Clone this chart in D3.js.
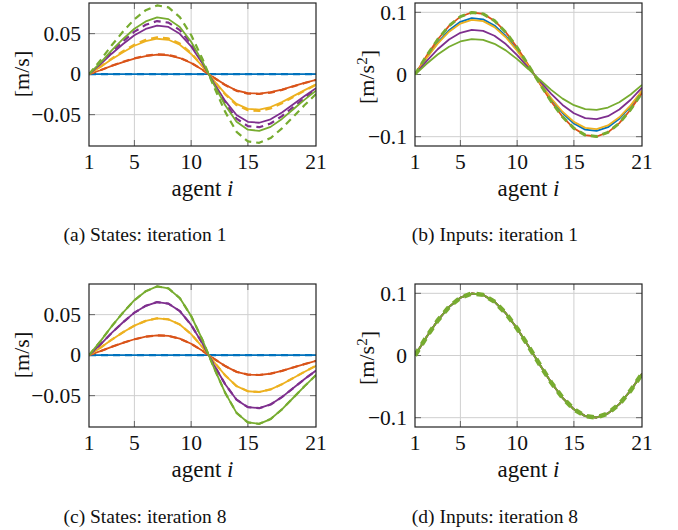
<!DOCTYPE html>
<html lang="en">
<head>
<meta charset="UTF-8">
<title>States and inputs</title>
<script src="https://d3js.org/d3.v7.min.js"></script>
<style>
    body { margin: 0; background: #fff; }
    svg { display: block; }
    text { font-family: "Liberation Serif", "Times New Roman", serif; fill: #111; }
</style>
</head>
<body>
<svg id="chart" width="678" height="530"></svg>
<script>
// agents 1..21
const agents = d3.range(1, 22);
const xTicks = [1, 5, 10, 15, 21];
const stateTicks = [-0.05, 0, 0.05];
const stateTickLabels = ["\u22120.05", "0", "0.05"];
const inputTicks = [-0.1, 0, 0.1];
const inputTickLabels = ["\u22120.1", "0", "0.1"];

const colors = ["#0072BD", "#D95319", "#EDB120", "#7E2F8E", "#77AC30"];

// states, desired (dashed) -- also what iteration 8 reaches
const stateBlueRef   = [0,0,0,0,0,0,0,0,0,0,0,0,0,0,0,0,0,0,0,0,0];
const stateOrangeRef = [0, 0.0049, 0.0103, 0.0152, 0.0196, 0.0228, 0.0245, 0.0238, 0.0203, 0.0140, 0.0054, -0.0044, -0.0135, -0.0206, -0.0240, -0.0245, -0.0228, -0.0194, -0.0152, -0.0110, -0.0071];
const stateYellowRef = [0, 0.0091, 0.0191, 0.0282, 0.0364, 0.0423, 0.0455, 0.0441, 0.0378, 0.0259, 0.0100, -0.0082, -0.0250, -0.0382, -0.0446, -0.0455, -0.0423, -0.0360, -0.0282, -0.0205, -0.0132];
const statePurpleRef = [0, 0.0131, 0.0275, 0.0406, 0.0524, 0.0609, 0.0655, 0.0635, 0.0544, 0.0373, 0.0144, -0.0118, -0.0360, -0.0550, -0.0642, -0.0655, -0.0609, -0.0518, -0.0406, -0.0295, -0.0190];
const stateGreenRef  = [0, 0.0170, 0.0356, 0.0526, 0.0678, 0.0789, 0.0848, 0.0823, 0.0704, 0.0483, 0.0187, -0.0153, -0.0466, -0.0712, -0.0831, -0.0848, -0.0789, -0.0670, -0.0526, -0.0382, -0.0246];

// states, iteration 1
const stateBlue1   = [0,0,0,0,0,0,0,0,0,0,0,0,0,0,0,0,0,0,0,0,0];
const stateOrange1 = [0, 0.0048, 0.0101, 0.0149, 0.0192, 0.0223, 0.0240, 0.0233, 0.0199, 0.0137, 0.0053, -0.0043, -0.0132, -0.0202, -0.0235, -0.0240, -0.0223, -0.0190, -0.0149, -0.0108, -0.0070];
const stateYellow1 = [0, 0.0087, 0.0184, 0.0271, 0.0350, 0.0406, 0.0437, 0.0424, 0.0363, 0.0249, 0.0096, -0.0079, -0.0240, -0.0367, -0.0428, -0.0437, -0.0406, -0.0345, -0.0271, -0.0197, -0.0127];
const statePurple1 = [0, 0.0120, 0.0252, 0.0372, 0.0480, 0.0558, 0.0600, 0.0582, 0.0498, 0.0342, 0.0132, -0.0108, -0.0330, -0.0504, -0.0588, -0.0600, -0.0558, -0.0474, -0.0372, -0.0270, -0.0174];
const stateGreen1  = [0, 0.0140, 0.0294, 0.0434, 0.0560, 0.0651, 0.0700, 0.0679, 0.0581, 0.0399, 0.0154, -0.0126, -0.0385, -0.0588, -0.0686, -0.0700, -0.0651, -0.0553, -0.0434, -0.0315, -0.0203];

// inputs, iteration 1
const inputRef     = [0, 0.0295, 0.0563, 0.0782, 0.0931, 0.0997, 0.0975, 0.0866, 0.0680, 0.0434, 0.0149, -0.0149, -0.0434, -0.0680, -0.0866, -0.0975, -0.0997, -0.0931, -0.0782, -0.0563, -0.0295];
const inputBlue1   = [0, 0.0268, 0.0513, 0.0711, 0.0847, 0.0907, 0.0887, 0.0788, 0.0619, 0.0395, 0.0136, -0.0136, -0.0395, -0.0619, -0.0788, -0.0887, -0.0907, -0.0847, -0.0711, -0.0513, -0.0268];
const inputOrange1 = [0, 0.0295, 0.0563, 0.0782, 0.0931, 0.0997, 0.0975, 0.0866, 0.0680, 0.0434, 0.0149, -0.0149, -0.0434, -0.0680, -0.0866, -0.0975, -0.0997, -0.0931, -0.0782, -0.0563, -0.0295];
const inputYellow1 = [0, 0.0259, 0.0496, 0.0688, 0.0819, 0.0878, 0.0858, 0.0762, 0.0599, 0.0382, 0.0131, -0.0131, -0.0382, -0.0599, -0.0762, -0.0858, -0.0878, -0.0819, -0.0688, -0.0496, -0.0259];
const inputPurple1 = [0, 0.0212, 0.0406, 0.0563, 0.0670, 0.0718, 0.0702, 0.0624, 0.0490, 0.0312, 0.0107, -0.0107, -0.0312, -0.0490, -0.0624, -0.0702, -0.0718, -0.0670, -0.0563, -0.0406, -0.0212];
const inputGreen1  = [0, 0.0168, 0.0321, 0.0446, 0.0531, 0.0568, 0.0556, 0.0494, 0.0388, 0.0247, 0.0085, -0.0085, -0.0247, -0.0388, -0.0494, -0.0556, -0.0568, -0.0531, -0.0446, -0.0321, -0.0168];

// inputs, iteration 8 (all agents converged onto the reference)
const inputBlue8   = [0, 0.0294, 0.0562, 0.0781, 0.0930, 0.0996, 0.0974, 0.0865, 0.0679, 0.0433, 0.0148, -0.0149, -0.0434, -0.0680, -0.0866, -0.0975, -0.0997, -0.0931, -0.0782, -0.0563, -0.0295];
const inputOrange8 = [0, 0.0295, 0.0563, 0.0782, 0.0931, 0.0997, 0.0975, 0.0866, 0.0680, 0.0434, 0.0149, -0.0149, -0.0434, -0.0680, -0.0866, -0.0975, -0.0997, -0.0931, -0.0782, -0.0563, -0.0295];
const inputYellow8 = [0, 0.0295, 0.0563, 0.0782, 0.0931, 0.0997, 0.0975, 0.0866, 0.0680, 0.0434, 0.0149, -0.0149, -0.0434, -0.0680, -0.0866, -0.0975, -0.0997, -0.0931, -0.0782, -0.0563, -0.0295];
const inputPurple8 = [0, 0.0295, 0.0563, 0.0782, 0.0931, 0.0997, 0.0975, 0.0866, 0.0680, 0.0434, 0.0149, -0.0149, -0.0434, -0.0680, -0.0866, -0.0975, -0.0997, -0.0931, -0.0782, -0.0563, -0.0295];
const inputGreen8  = [0, 0.0295, 0.0563, 0.0782, 0.0931, 0.0997, 0.0975, 0.0866, 0.0680, 0.0434, 0.0149, -0.0149, -0.0434, -0.0680, -0.0866, -0.0975, -0.0997, -0.0931, -0.0782, -0.0563, -0.0295];

const svg = d3.select("#chart");

function drawPanel(p) {
    const x = d3.scaleLinear().domain([1, 21]).range([p.left, p.right]);
    const y = d3.scaleLinear().domain(p.yDomain).range([p.bottom, p.top]);
    const g = svg.append("g");

    // grid
    g.selectAll(".gx").data(xTicks.slice(1, -1)).enter().append("line")
        .attr("x1", d => x(d)).attr("x2", d => x(d))
        .attr("y1", p.top).attr("y2", p.bottom)
        .attr("stroke", "#cfcfcf").attr("stroke-width", 1);
    g.selectAll(".gy").data(p.yTicks).enter().append("line")
        .attr("x1", p.left).attr("x2", p.right)
        .attr("y1", d => y(d)).attr("y2", d => y(d))
        .attr("stroke", "#cfcfcf").attr("stroke-width", 1);

    // inner tick marks on all four sides
    const tl = 6;
    xTicks.slice(1, -1).forEach(d => {
        g.append("line").attr("x1", x(d)).attr("x2", x(d)).attr("y1", p.bottom).attr("y2", p.bottom - tl)
            .attr("stroke", "#666");
        g.append("line").attr("x1", x(d)).attr("x2", x(d)).attr("y1", p.top).attr("y2", p.top + tl)
            .attr("stroke", "#666");
    });
    p.yTicks.forEach(d => {
        g.append("line").attr("x1", p.left).attr("x2", p.left + tl).attr("y1", y(d)).attr("y2", y(d))
            .attr("stroke", "#666");
        g.append("line").attr("x1", p.right).attr("x2", p.right - tl).attr("y1", y(d)).attr("y2", y(d))
            .attr("stroke", "#666");
    });

    const line = d3.line().x((d, i) => x(agents[i])).y(d => y(d));
    const clipId = "clip" + p.id;
    svg.append("clipPath").attr("id", clipId).append("rect")
        .attr("x", p.left).attr("y", p.top).attr("width", p.right - p.left).attr("height", p.bottom - p.top);
    const lines = g.append("g").attr("clip-path", "url(#" + clipId + ")");

    p.series.forEach(s => {
        lines.append("path")
            .attr("d", line(s.values))
            .attr("fill", "none")
            .attr("stroke", s.color)
            .attr("stroke-width", s.width)
            .attr("stroke-dasharray", s.dash || null)
            .attr("stroke-linejoin", "round");
    });

    // frame
    g.append("rect")
        .attr("x", p.left).attr("y", p.top)
        .attr("width", p.right - p.left).attr("height", p.bottom - p.top)
        .attr("fill", "none").attr("stroke", "#222").attr("stroke-width", 1.2);

    // tick labels
    g.selectAll(".xl").data(xTicks).enter().append("text")
        .attr("x", d => x(d)).attr("y", p.bottom + 23)
        .attr("text-anchor", "middle").attr("font-size", 21.5)
        .text(d => d);
    g.selectAll(".yl").data(p.yTicks).enter().append("text")
        .attr("x", p.left - 8).attr("y", d => y(d)).attr("dy", "0.34em")
        .attr("text-anchor", "end").attr("font-size", 21.5)
        .text((d, i) => p.yTickLabels[i]);

    // axis labels
    const xl = g.append("text")
        .attr("x", (p.left + p.right) / 2).attr("y", p.bottom + 50)
        .attr("text-anchor", "middle").attr("font-size", 23);
    xl.append("tspan").text("agent ");
    xl.append("tspan").attr("font-style", "italic").text("i");

    const yl = g.append("text")
        .attr("transform", `translate(${p.yLabelX},${p.yLabelY}) rotate(-90)`)
        .attr("text-anchor", "middle").attr("font-size", 22);
    yl.append("tspan").text(p.unit);
    if (p.sup) {
        yl.append("tspan").attr("font-size", 15).attr("dy", "-0.5em").text(p.sup);
        yl.append("tspan").attr("dy", "0.45em").text("]");
    } else {
        yl.append("tspan").text("]");
    }

    // caption
    svg.append("text")
        .attr("x", p.capX).attr("y", p.capY)
        .attr("text-anchor", "middle").attr("font-size", 19.5)
        .text(p.caption);
}

function stateSeries(solid, dashed) {
    const out = [];
    solid.forEach((v, i) => {
        out.push({ values: v, color: colors[i], width: 1.8 });
        out.push({ values: dashed[i], color: colors[i], width: 2.2, dash: "7,5" });
    });
    return out;
}

const statesRef = [stateBlueRef, stateOrangeRef, stateYellowRef, statePurpleRef, stateGreenRef];

drawPanel({
    id: "a", left: 89, right: 316, top: 3, bottom: 146,
    yDomain: [-0.0887, 0.0878], yTicks: stateTicks, yTickLabels: stateTickLabels,
    series: stateSeries([stateBlue1, stateOrange1, stateYellow1, statePurple1, stateGreen1], statesRef),
    unit: "[m/s", yLabelX: 29, yLabelY: 74,
    caption: "(a) States: iteration 1", capX: 145, capY: 241
});

drawPanel({
    id: "b", left: 415, right: 642, top: 3, bottom: 146,
    yDomain: [-0.115, 0.115], yTicks: inputTicks, yTickLabels: inputTickLabels,
    series: [inputBlue1, inputOrange1, inputYellow1, inputPurple1, inputGreen1]
        .map((v, i) => ({ values: v, color: colors[i], width: 1.8 }))
        .concat([{ values: inputRef, color: colors[4], width: 3, dash: "7,5" }]),
    unit: "[m/s", sup: "2", yLabelX: 374, yLabelY: 77,
    caption: "(b) Inputs: iteration 1", capX: 495, capY: 241
});

drawPanel({
    id: "c", left: 89, right: 316, top: 284, bottom: 427,
    yDomain: [-0.0887, 0.0878], yTicks: stateTicks, yTickLabels: stateTickLabels,
    series: stateSeries(statesRef, statesRef),
    unit: "[m/s", yLabelX: 29, yLabelY: 355,
    caption: "(c) States: iteration 8", capX: 145, capY: 523
});

drawPanel({
    id: "d", left: 415, right: 642, top: 284, bottom: 427,
    yDomain: [-0.115, 0.115], yTicks: inputTicks, yTickLabels: inputTickLabels,
    series: [inputBlue8, inputOrange8, inputYellow8, inputPurple8, inputGreen8]
        .map((v, i) => ({ values: v, color: colors[i], width: 1.8 }))
        .concat([{ values: inputRef, color: colors[4], width: 4.5, dash: "7,6" }]),
    unit: "[m/s", sup: "2", yLabelX: 374, yLabelY: 358,
    caption: "(d) Inputs: iteration 8", capX: 495, capY: 523
});
</script>
</body>
</html>
